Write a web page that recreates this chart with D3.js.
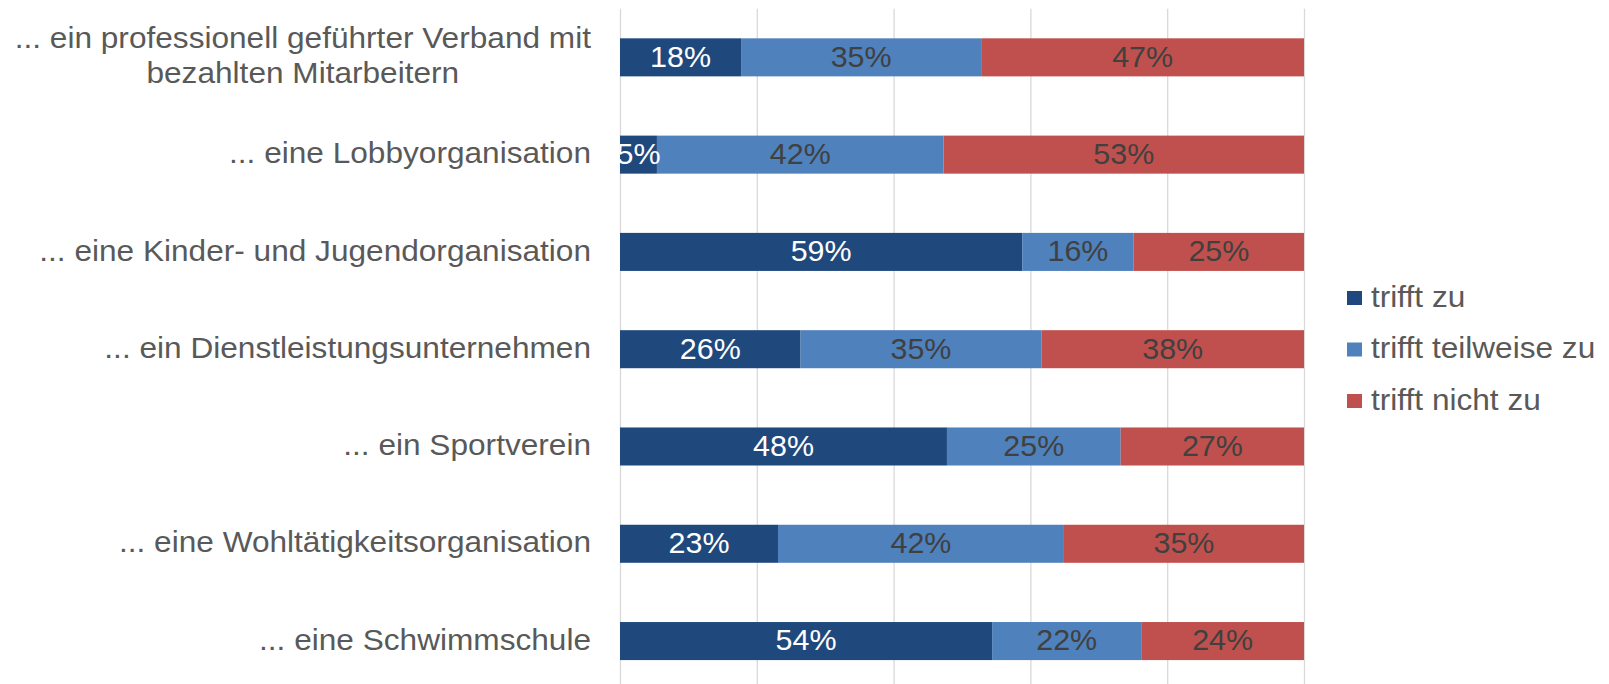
<!DOCTYPE html>
<html>
<head>
<meta charset="utf-8">
<script src="https://cdn.jsdelivr.net/npm/d3@7"></script>
<style>
  html, body { margin: 0; padding: 0; background: #fff; }
  svg { display: block; font-family: "Liberation Sans", Arial, sans-serif; }
</style>
</head>
<body>
<div id="chart"></div>
<script>
// Kategorien (Zeilen von oben nach unten), "\n" = Zeilenumbruch
const categories = [
  '... ein professionell geführter Verband mit\nbezahlten Mitarbeitern',
  '... eine Lobbyorganisation',
  '... eine Kinder- und Jugendorganisation',
  '... ein Dienstleistungsunternehmen',
  '... ein Sportverein',
  '... eine Wohltätigkeitsorganisation',
  '... eine Schwimmschule'
];

const seriesNames = ['trifft zu', 'trifft teilweise zu', 'trifft nicht zu'];

// Anteile in Prozent
const trifftZu        = [17.7,  5.4, 58.8, 26.4, 47.8, 23.1, 54.4];
const trifftTeilweise = [35.1, 41.9, 16.3, 35.2, 25.4, 41.8, 21.8];
const trifftNicht     = [47.2, 52.7, 24.9, 38.4, 26.8, 35.1, 23.8];

const xTicks = [0, 20, 40, 60, 80, 100];

const colors = ['#1F497D', '#4F81BD', '#C0504D'];
const labelColors = ['#ffffff', '#404040', '#404040'];

const width = 1609;
const height = 684;

// Schrift ist im Original leicht in die Breite gezogen
const fontSize = 29;
const stretchCat = 1.09;
const stretchLbl = 1.05;

const svg = d3.select('#chart')
  .append('svg')
  .attr('width', width)
  .attr('height', height);

const x = d3.scaleLinear().domain([0, 100]).range([620, 1304]);
const y = d3.scaleBand()
  .domain(d3.range(categories.length))
  .range([8.7, 689.7])
  .paddingInner(0.609)
  .paddingOuter(0.3045);

// Gitternetz
svg.append('g')
  .attr('transform', `translate(0,${y.range()[0]})`)
  .call(d3.axisBottom(x).tickValues(xTicks).tickSize(y.range()[1] - y.range()[0]).tickFormat(''))
  .call(g => g.select('.domain').remove())
  .call(g => g.selectAll('line').attr('stroke', '#D9D9D9').attr('stroke-width', 1.3));

// Stapel bauen
const rows = categories.map((c, i) => {
  const vals = [trifftZu[i], trifftTeilweise[i], trifftNicht[i]];
  let acc = 0;
  return vals.map((v, k) => {
    const seg = { row: i, series: k, value: v, x0: acc, x1: acc + v };
    acc += v;
    return seg;
  });
});
const segments = rows.flat();

svg.append('defs').append('clipPath').attr('id', 'plotclip')
  .append('rect').attr('x', 620).attr('y', 0).attr('width', 700).attr('height', height);

svg.append('g').selectAll('rect')
  .data(segments)
  .enter()
  .append('rect')
  .attr('x', d => x(d.x0))
  .attr('width', d => x(d.x1) - x(d.x0))
  .attr('y', d => y(d.row))
  .attr('height', y.bandwidth())
  .attr('fill', d => colors[d.series]);

// Datenbeschriftungen
svg.append('g').attr('clip-path', 'url(#plotclip)')
  .selectAll('text')
  .data(segments)
  .enter()
  .append('text')
  .attr('transform', d => `translate(${x((d.x0 + d.x1) / 2)},${y(d.row) + y.bandwidth() / 2 + 9.4}) scale(${stretchLbl},1)`)
  .attr('text-anchor', 'middle')
  .style('font-size', fontSize + 'px')
  .style('fill', d => labelColors[d.series])
  .text(d => Math.round(d.value) + '%');

// Kategorienbeschriftungen
const labelRight = 591;
const lineHeight = 35;
categories.forEach((c, i) => {
  const lines = c.split('\n');
  const cy = y(i) + y.bandwidth() / 2 + 8.6 - (lines.length - 1) * lineHeight / 2;
  const t = svg.append('text')
    .style('font-size', fontSize + 'px')
    .style('fill', '#595959');
  lines.forEach((ln, j) => {
    t.append('tspan')
      .attr('x', 0)
      .attr('y', j * lineHeight)
      .text(ln);
  });
  if (lines.length === 1) {
    t.attr('text-anchor', 'end')
      .attr('transform', `translate(${labelRight},${cy}) scale(${stretchCat},1)`);
  } else {
    let w = 0;
    t.selectAll('tspan').each(function () { w = Math.max(w, this.getComputedTextLength()); });
    t.attr('text-anchor', 'middle')
      .attr('transform', `translate(${labelRight - w * stretchCat / 2},${cy}) scale(${stretchCat},1)`);
  }
});

// Legende
const legend = svg.append('g');
seriesNames.forEach((name, k) => {
  const ly = 298 + k * 51.5;
  legend.append('rect')
    .attr('x', 1347).attr('y', ly - 7)
    .attr('width', 15).attr('height', 14)
    .attr('fill', colors[k]);
  legend.append('text')
    .attr('transform', `translate(1371,${ly + 8.5}) scale(${stretchCat},1)`)
    .style('font-size', fontSize + 'px')
    .style('fill', '#595959')
    .text(name);
});
</script>
</body>
</html>
